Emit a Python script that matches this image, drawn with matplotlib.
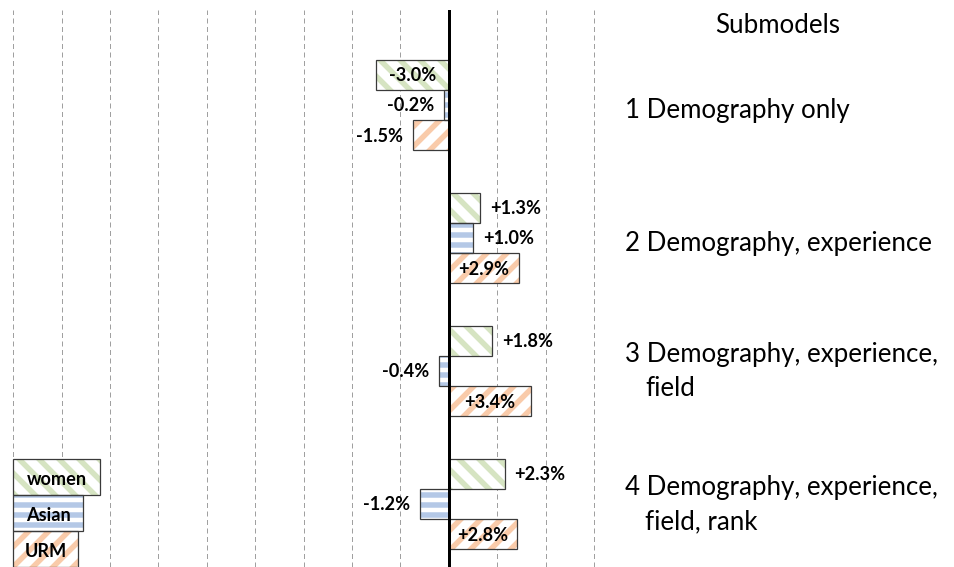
import numpy as np
import matplotlib
matplotlib.use("Agg")
import matplotlib.pyplot as plt
import matplotlib.transforms as mtransforms

DPI = 120
PX = 72 / DPI  # one pixel in points

plt.rcParams['font.family'] = ['Lato', 'DejaVu Sans']
plt.rcParams['hatch.linewidth'] = 3.3
plt.rcParams['lines.scale_dashes'] = False

# data (percent change per submodel)
submodels = ["1 Demography only",
             "2 Demography, experience",
             "3 Demography, experience,\nfield",
             "4 Demography, experience,\nfield, rank"]
series = ["women", "Asian", "URM"]
women = [-3.0, 1.3, 1.8, 2.3]
asian = [-0.2, 1.0, -0.4, -1.2]
urm = [-1.5, 2.9, 3.4, 2.8]

# style per series
stripe_colors = ["#d6e4c2", "#b4c8e6", "#f9cbaa"]
hatches = ["\\\\", "--", "//"]
edge = "#3a3a3a"

fig = plt.figure(figsize=(954 / DPI, 567 / DPI), dpi=DPI)
ax = fig.add_axes([0, 0, 600 / 954, 557 / 567])
renderer = fig.canvas.get_renderer()


def fit_size(s, target_px, weight="normal"):
    t = fig.text(0, 0, s, fontsize=10, fontweight=weight)
    w = t.get_window_extent(renderer=renderer).width
    t.remove()
    return 10 * target_px / w


val_fs = fit_size("-3.0%", 47, "bold")
lab_fs = fit_size("3 Demography, experie", 265)

bar_h = 0.222
offsets = [-0.226, 0.0, 0.226]
y = np.arange(len(submodels))


def draw_bars(ypos, vals, height, color, hatch, left=0):
    ax.barh(ypos, vals, height=height, left=left, color="white",
            edgecolor=color, hatch=hatch, linewidth=0, zorder=2)
    ax.barh(ypos, vals, height=height, left=left, color="none",
            edgecolor=edge, linewidth=0.75, zorder=3)


for vals, off, col, h in zip([women, asian, urm], offsets, stripe_colors, hatches):
    ypos = y + off
    draw_bars(ypos, vals, bar_h, col, h)
    for yy, v in zip(ypos, vals):
        txt = f"{v:+.1f}%"
        if abs(v) > 2.5:
            ax.annotate(txt, (v / 2, yy), xytext=(0, -1 * PX),
                        textcoords="offset points", ha="center", va="center",
                        fontsize=val_fs, fontweight="bold", zorder=5)
        else:
            dx = 10 * PX if v > 0 else -10 * PX
            ax.annotate(txt, (v, yy), xytext=(dx, -1 * PX),
                        textcoords="offset points",
                        ha="left" if v > 0 else "right", va="center",
                        fontsize=val_fs, fontweight="bold", zorder=5)

# legend drawn as bars in lower left
leg_w = [3.6, 2.9, 2.7]
leg_y = [2.80, 3.07, 3.34]
for name, w, yy, col, h in zip(series, leg_w, leg_y, stripe_colors, hatches):
    draw_bars([yy], [w], 0.27, col, h, left=-18)
    ax.annotate(name, (-18 + w / 2, yy), xytext=(0, -2 * PX),
                textcoords="offset points", ha="center", va="center",
                fontsize=val_fs, fontweight="bold", zorder=5)

ax.set_xlim(-18.54, 6.24)
ax.set_ylim(3.474, -0.714)
ax.set_xticks(np.arange(-18, 7, 2))
ax.set_yticks([])
ax.tick_params(axis="x", length=0, labelbottom=False)
ax.grid(axis="x", linestyle=(0, (5 * PX, 3.5 * PX)), color="#a0a0a0",
        linewidth=1.0 * PX)
ax.set_axisbelow(True)
ax.axvline(0, color="black", linewidth=3 * PX, zorder=4)
for s in ax.spines.values():
    s.set_visible(False)

# submodel labels to the right
trans = mtransforms.blended_transform_factory(fig.transFigure, ax.transData)
for yy, name in zip(y, submodels):
    lines = name.split("\n")
    if len(lines) == 1:
        shifts = [(0, 13)]
    else:
        shifts = [(0, -8.5), (20, 25.5)]
    for line, (dx, dy) in zip(lines, shifts):
        ax.annotate(line, (625 / 954, yy), xycoords=trans,
                    xytext=(dx * PX, -dy * PX), textcoords="offset points",
                    ha="left", va="baseline", fontsize=lab_fs,
                    annotation_clip=False)
fig.text(778 / 954, 1 - 33 / 567, "Submodels", ha="center", va="baseline",
         fontsize=lab_fs)

fig.savefig("out.png", dpi=DPI)
